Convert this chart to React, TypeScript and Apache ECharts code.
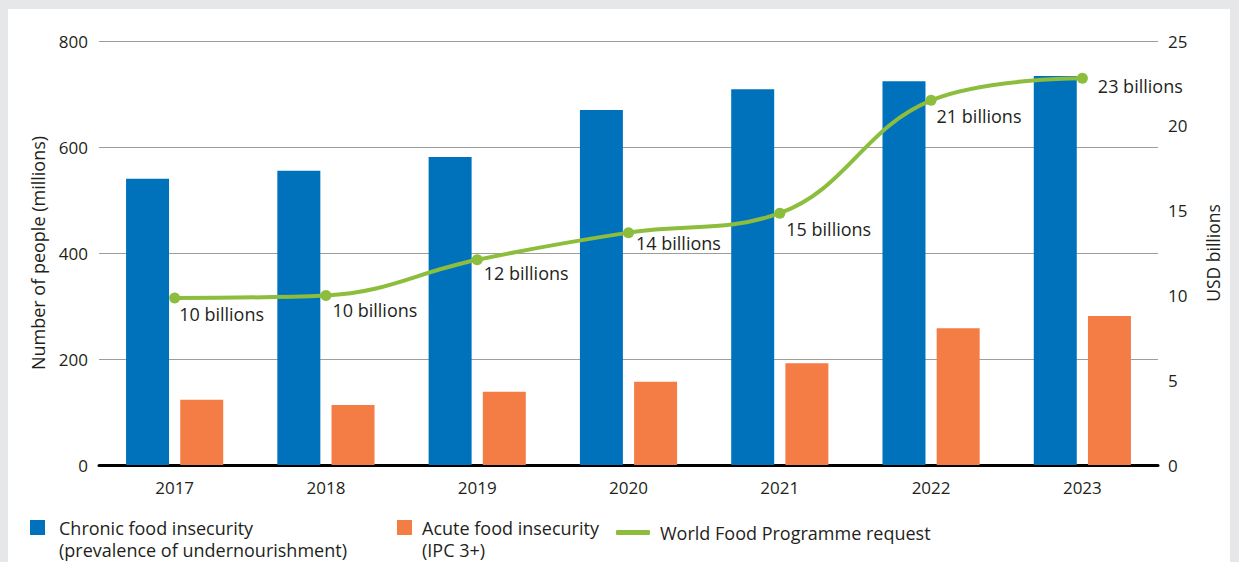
import React, { useEffect, useRef } from "react";
import * as echarts from "echarts";

const years = ["2017", "2018", "2019", "2020", "2021", "2022", "2023"];
const chronic = [540, 555, 581, 670, 709, 724, 734];
const acute = [123, 113, 138, 157, 192, 258, 281];
const wfpRequest = [9.85, 10.0, 12.1, 13.7, 14.85, 21.5, 22.8];
const wfpLabels = ["10 billions", "10 billions", "12 billions", "14 billions", "15 billions", "21 billions", "23 billions"];
const leftTicks = [0, 200, 400, 600, 800];
const rightTicks = [0, 5, 10, 15, 20, 25];
const seriesNames = ["Chronic food insecurity", "Acute food insecurity", "World Food Programme request"];
const legendSubtitles = ["(prevalence of undernourishment)", "(IPC 3+)"];

const FONT = "'Open Sans', 'Noto Sans', sans-serif";
const FS = 18;
const TICK_FS = 17;
const TXT = "#231f20";
const BLUE = "#0072bc";
const ORANGE = "#f47d45";
const GREEN = "#8dbd3c";

export default function App() {
  const ref = useRef<HTMLDivElement>(null);
  useEffect(() => {
    if (!ref.current) return;
    const chart = echarts.init(ref.current, undefined, { renderer: "svg" });
    const labelOffsets: number[][] = [
      [10, 13], [12, 11], [12, 10], [13, 7], [12, 12], [11, 12], [21, 4],
    ];
    chart.setOption({
      animation: false,
      backgroundColor: "#e6e7e8",
      textStyle: { fontFamily: FONT, color: TXT },
      graphic: [
        {
          type: "rect",
          shape: { x: 8, y: 9, width: 1222, height: 560 },
          style: { fill: "#ffffff" },
          z: -10,
          silent: true,
        },
        {
          type: "text",
          x: 59,
          y: 550,
          style: { text: legendSubtitles[0], fontSize: FS, lineHeight: 20, fontFamily: FONT, fill: TXT, verticalAlign: "middle" },
          silent: true,
        },
        {
          type: "text",
          x: 422,
          y: 550,
          style: { text: legendSubtitles[1], fontSize: FS, lineHeight: 20, fontFamily: FONT, fill: TXT, verticalAlign: "middle" },
          silent: true,
        },
      ],
      grid: { left: 99, right: 81, top: 41, bottom: 97, containLabel: false },
      xAxis: {
        type: "category",
        data: years,
        axisLine: { show: true, lineStyle: { color: "#000000", width: 3 } },
        axisTick: { show: false },
        axisLabel: { fontSize: TICK_FS, color: TXT, margin: 14, fontFamily: FONT },
      },
      yAxis: [
        {
          type: "value",
          min: leftTicks[0],
          max: leftTicks[leftTicks.length - 1],
          interval: 200,
          name: "Number of people (millions)",
          nameLocation: "middle",
          nameRotate: 90,
          nameGap: 52,
          nameTextStyle: { fontSize: FS, color: TXT, fontFamily: FONT },
          axisLine: { show: false },
          axisTick: { show: false },
          axisLabel: { fontSize: TICK_FS, color: TXT, margin: 11, fontFamily: FONT },
          splitLine: { show: true, lineStyle: { color: "#9d9d9d", width: 1 } },
        },
        {
          type: "value",
          min: rightTicks[0],
          max: rightTicks[rightTicks.length - 1],
          interval: 5,
          position: "right",
          name: "USD billions",
          nameLocation: "middle",
          nameRotate: 90,
          nameGap: 46,
          nameTextStyle: { fontSize: 17.5, color: TXT, fontFamily: FONT },
          axisLine: { show: false },
          axisTick: { show: false },
          axisLabel: { fontSize: TICK_FS, color: TXT, margin: 10, fontFamily: FONT },
          splitLine: { show: false },
        },
      ],
      legend: [
        {
          left: 30,
          top: 517,
          padding: 0,
          data: [seriesNames[0]],
          itemWidth: 15,
          itemHeight: 15,
          icon: "rect",
          textStyle: { fontSize: FS, lineHeight: 20, color: TXT, padding: [1, 0, 0, 9], fontFamily: FONT },
          selectedMode: false,
        },
        {
          left: 397,
          top: 517,
          padding: 0,
          data: [seriesNames[1]],
          itemWidth: 15,
          itemHeight: 15,
          icon: "rect",
          textStyle: { fontSize: FS, lineHeight: 20, color: TXT, padding: [1, 0, 0, 5], fontFamily: FONT },
          selectedMode: false,
        },
        {
          left: 616,
          top: 522,
          padding: 0,
          data: [seriesNames[2]],
          itemWidth: 34,
          itemHeight: 5,
          icon: "roundRect",
          textStyle: { fontSize: FS, lineHeight: 20, color: TXT, padding: [1, 0, 0, 5], fontFamily: FONT },
          selectedMode: false,
        },
      ],
      series: [
        {
          name: seriesNames[0],
          type: "bar",
          yAxisIndex: 0,
          data: chronic,
          barWidth: 43,
          barGap: "26%",
          itemStyle: { color: BLUE },
        },
        {
          name: seriesNames[1],
          type: "bar",
          yAxisIndex: 0,
          data: acute,
          barWidth: 43,
          barGap: "26%",
          itemStyle: { color: ORANGE },
        },
        {
          name: seriesNames[2],
          type: "line",
          yAxisIndex: 1,
          smooth: 0.4,
          symbol: "circle",
          symbolSize: 11,
          data: wfpRequest.map((v, i) => ({
            value: v,
            label: {
              show: true,
              formatter: wfpLabels[i],
              position: labelOffsets[i],
              fontSize: FS,
              color: TXT,
              fontFamily: FONT,
            },
          })),
          lineStyle: { color: GREEN, width: 4 },
          itemStyle: { color: GREEN },
          z: 5,
        },
      ],
    });
    return () => chart.dispose();
  }, []);
  return (
    <div
      ref={ref}
      style={{ position: "absolute", left: 0, top: 0, width: 1239, height: 562 }}
    />
  );
}
